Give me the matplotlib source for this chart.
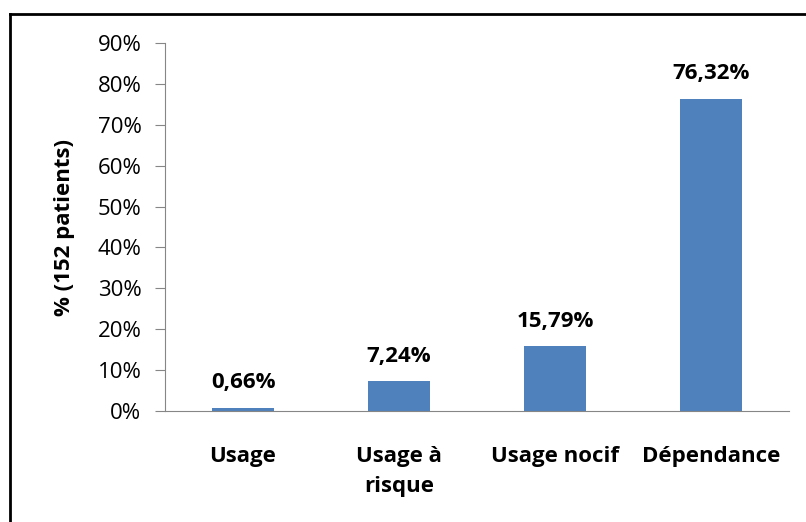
import matplotlib.pyplot as plt
from matplotlib.lines import Line2D
from matplotlib.ticker import FuncFormatter

categories = ['Usage', 'Usage à\nrisque', 'Usage nocif', 'Dépendance']
values = [0.66, 7.24, 15.79, 76.32]
labels = ['0,66%', '7,24%', '15,79%', '76,32%']

plt.rcParams['font.family'] = ['Open Sans', 'DejaVu Sans']

fig = plt.figure(figsize=(8.06, 5.22), dpi=100)
ax = fig.add_axes([165 / 806, 1 - 411 / 522, 624 / 806, 368 / 522])

x = range(len(categories))
ax.bar(x, values, width=0.4, color='#4F81BD')
for i, v in enumerate(values):
    ax.text(i, v + 6.2, labels[i], ha='center', va='center',
            fontsize=16, fontweight='bold')

ax.set_xlim(-0.5, len(categories) - 0.5)
ax.set_ylim(0, 90)
ax.set_yticks(range(0, 91, 10))
ax.yaxis.set_major_formatter(FuncFormatter(lambda v, p: f'{int(v)}%'))
ax.set_xticks(list(x))
ax.set_xticklabels(categories, fontsize=16, fontweight='bold', linespacing=1.55)
ax.tick_params(axis='x', length=0, pad=25)
ax.tick_params(axis='y', length=7, color='#868686', labelsize=16, pad=10)
for s in ['top', 'right']:
    ax.spines[s].set_visible(False)
ax.spines['left'].set_color('#868686')
ax.spines['bottom'].set_color('#868686')
ax.set_ylabel('% (152 patients)', fontsize=16, fontweight='bold', labelpad=16)

# cadre du graphique (seulement haut et gauche visibles)
fig.add_artist(Line2D([10 / 806, 10 / 806], [0, 1 - 14 / 522], color='black', lw=2))
fig.add_artist(Line2D([10 / 806, 1], [1 - 14 / 522, 1 - 14 / 522], color='black', lw=2))

fig.savefig('out.png', dpi=100)
